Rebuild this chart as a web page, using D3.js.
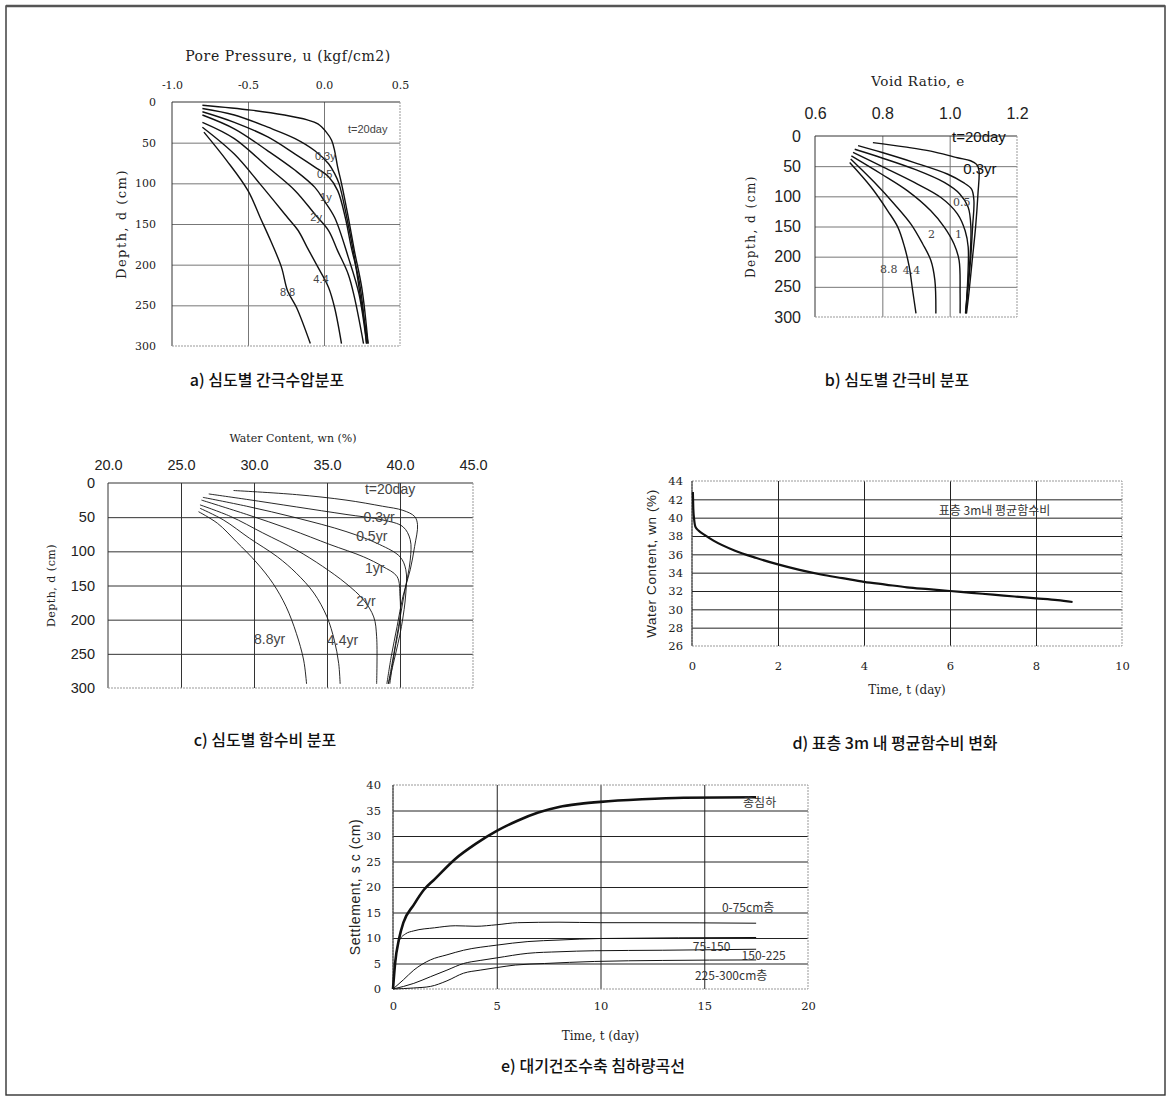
<!DOCTYPE html>
<html>
<head>
<meta charset="utf-8">
<script src="https://cdn.jsdelivr.net/npm/d3@7"></script>
<style>
  body { margin: 0; background: #fff; }
  svg { display: block; }
</style>
</head>
<body>
<div id="chart"></div>
<script>
'use strict';

// ---- data: a) pore pressure u (kgf/cm2) vs depth d (cm)
var poreNames = ['t=20day', '0.3y', '0.5', '1y', '2y', '4.4', '8.8'];
var pore20d = [[-0.80, 4], [-0.48, 10], [-0.26, 16], [-0.11, 22], [-0.04, 27], [0.015, 37], [0.05, 47], [0.07, 60], [0.09, 80], [0.115, 100], [0.16, 142], [0.20, 183], [0.25, 230], [0.29, 297]];
var pore03 = [[-0.80, 8], [-0.59, 16], [-0.37, 31], [-0.19, 45], [-0.06, 60], [0.03, 76], [0.07, 88], [0.10, 101], [0.15, 142], [0.20, 191], [0.24, 240], [0.29, 297]];
var pore05 = [[-0.80, 12], [-0.59, 25], [-0.37, 43], [-0.19, 64], [-0.06, 80], [0.03, 92], [0.09, 109], [0.14, 142], [0.18, 179], [0.235, 224], [0.28, 297]];
var pore1 = [[-0.80, 16], [-0.59, 33], [-0.37, 60], [-0.19, 84], [-0.06, 105], [0.00, 121], [0.07, 142], [0.16, 191], [0.23, 236], [0.28, 297]];
var pore2 = [[-0.80, 25], [-0.59, 45], [-0.37, 80], [-0.19, 109], [-0.06, 138], [0.03, 158], [0.09, 183], [0.16, 212], [0.20, 240], [0.26, 297]];
var pore44 = [[-0.80, 31], [-0.59, 64], [-0.42, 101], [-0.24, 142], [-0.17, 158], [-0.11, 179], [-0.04, 203], [0.03, 228], [0.07, 253], [0.115, 297]];
var pore88 = [[-0.79, 37], [-0.64, 72], [-0.50, 109], [-0.42, 142], [-0.35, 171], [-0.28, 203], [-0.24, 232], [-0.18, 253], [-0.09, 297]];
var poreNoteAt = [[0.158, 34], [-0.06, 68], [-0.046, 90], [-0.026, 118], [-0.09, 143], [-0.07, 219], [-0.29, 235]];
var poreTicks = [-1.0, -0.5, 0.0, 0.5];

// ---- data: b) void ratio e vs depth
var voidNames = ['t=20day', '0.3yr', '0.5', '1', '2', '4.4', '8.8'];
var void20d = [[0.772, 11], [0.866, 18], [0.944, 25], [1.023, 36], [1.062, 41], [1.08, 47], [1.087, 57], [1.084, 96], [1.077, 151], [1.067, 206], [1.057, 261], [1.05, 294]];
var void03 = [[0.728, 16], [0.797, 27], [0.895, 44], [0.993, 63], [1.04, 77], [1.065, 88], [1.072, 107], [1.068, 151], [1.062, 206], [1.053, 261], [1.048, 294]];
var void05 = [[0.718, 22], [0.797, 36], [0.895, 55], [0.984, 77], [1.03, 96], [1.055, 118], [1.063, 151], [1.06, 206], [1.052, 261], [1.047, 294]];
var void1 = [[0.713, 27], [0.797, 50], [0.895, 77], [0.974, 102], [1.023, 129], [1.046, 157], [1.055, 184], [1.054, 234], [1.048, 294]];
var void2 = [[0.708, 33], [0.797, 63], [0.875, 91], [0.944, 124], [0.984, 151], [1.013, 179], [1.028, 206], [1.031, 261], [1.031, 294]];
var void44 = [[0.706, 38], [0.777, 77], [0.836, 113], [0.885, 146], [0.92, 179], [0.944, 206], [0.956, 239], [0.959, 294]];
var void88 = [[0.703, 44], [0.767, 85], [0.816, 124], [0.846, 151], [0.866, 184], [0.880, 217], [0.890, 256], [0.9, 294]];
var voidNoteAt = [[1.007, 3], [1.04, 56], [1.01, 111], [1.016, 164], [0.936, 164], [0.861, 224], [0.793, 222]];
var voidTicks = [0.6, 0.8, 1.0, 1.2];

// ---- data: c) water content wn (%) vs depth
var wcNames = ['t=20day', '0.3yr', '0.5yr', '1yr', '2yr', '4.4yr', '8.8yr'];
var wc20d = [[28.6, 11], [32.9, 17], [36.3, 25], [38.8, 34], [40.2, 40], [41.0, 49], [41.2, 61], [41.0, 93], [40.7, 127], [40.2, 166], [39.8, 210], [39.4, 254], [39.1, 294]];
var wc03 = [[26.9, 16], [29.5, 24], [32.9, 35], [36.3, 46], [38.8, 54], [40.2, 64], [40.7, 83], [40.7, 113], [40.3, 161], [39.9, 210], [39.5, 259], [39.2, 294]];
var wc05 = [[26.5, 21], [29.5, 34], [32.9, 51], [36.3, 71], [38.6, 90], [40.0, 108], [40.4, 127], [40.4, 161], [40.1, 210], [39.6, 259], [39.2, 294]];
var wc1 = [[26.4, 25], [29.5, 46], [32.5, 68], [35.2, 90], [37.5, 108], [38.8, 122], [39.8, 137], [40.0, 166], [40.0, 200], [39.6, 250], [39.3, 294]];
var wc2 = [[26.3, 32], [28.4, 49], [30.6, 73], [32.9, 98], [34.7, 122], [36.3, 147], [37.5, 171], [38.2, 196], [38.4, 225], [38.4, 294]];
var wc44 = [[26.3, 37], [27.9, 54], [29.7, 81], [31.6, 108], [32.9, 132], [34.1, 161], [35.0, 196], [35.5, 230], [35.8, 264], [35.9, 294]];
var wc88 = [[26.2, 42], [27.5, 59], [28.8, 86], [30.2, 117], [31.3, 147], [32.2, 181], [32.9, 220], [33.4, 259], [33.6, 294]];
var wcNoteAt = [[37.6, 10], [37.5, 51], [37.0, 80], [37.6, 127], [37.0, 174], [35.0, 231], [30.0, 230]];
var wcTicks = [20, 25, 30, 35, 40, 45];

// shared depth ticks
var depthTicks = [0, 50, 100, 150, 200, 250, 300];

// ---- data: d) mean water content of top 3 m vs time
var dTime = [0.02, 0.03, 0.05, 0.08, 0.15, 0.3, 0.5, 1, 1.5, 2, 2.5, 3, 3.5, 4, 4.5, 5, 5.5, 6, 6.5, 7, 7.5, 8, 8.5, 8.85];
var dWater = [42.8, 41.0, 39.8, 39.0, 38.6, 38.1, 37.5, 36.4, 35.6, 34.9, 34.3, 33.8, 33.4, 33.0, 32.7, 32.4, 32.2, 32.0, 31.8, 31.6, 31.4, 31.2, 31.0, 30.8];
var dNote = '표층 3m내 평균함수비';
var dNoteAt = [5.74, 40.6];
var dXTicks = [0, 2, 4, 6, 8, 10];
var dYTicks = [26, 28, 30, 32, 34, 36, 38, 40, 42, 44];

// ---- data: e) settlement vs time
var eTotalT = [0, 0.1, 0.3, 0.5, 1, 1.5, 2, 3, 4, 5, 6, 7, 8, 9, 10, 12, 14, 17.5];
var eTotal = [0, 5, 10, 13, 16.5, 19.5, 21.5, 25.5, 28.5, 31, 33, 34.6, 35.7, 36.3, 36.7, 37.2, 37.5, 37.6];
var eL1T = [0, 0.1, 0.3, 0.6, 1, 2, 3, 4, 5, 6, 8, 10, 12, 17.5];
var eL1 = [0, 5, 9.5, 10.8, 11.4, 12, 12.4, 12.3, 12.6, 13, 13.1, 13, 13, 12.9];
var eL2T = [0, 0.5, 1, 1.8, 2.6, 3.4, 5, 6.5, 8, 10, 17.5];
var eL2 = [0, 1.8, 3.7, 5.7, 6.7, 7.6, 8.6, 9.3, 9.6, 9.9, 10.1];
var eL3T = [0, 1, 1.8, 2.6, 3.4, 4.2, 5, 6.5, 8, 9.7, 13, 17.5];
var eL3 = [0, 1.1, 2.4, 3.7, 5.0, 5.6, 6.1, 7.0, 7.3, 7.5, 7.6, 7.8];
var eL4T = [0, 1, 1.8, 2.6, 3.4, 4.2, 5, 5.9, 7.3, 9.7, 13, 17.5];
var eL4 = [0, 0.2, 0.5, 1.6, 3.1, 3.7, 4.2, 4.7, 5.0, 5.4, 5.6, 5.7];
var eNames = ['총침하', '0-75cm층', '75-150', '150-225', '225-300cm층'];
var eNoteAt = [[16.87, 36.3], [15.85, 15.7], [14.45, 8.0], [16.8, 6.3], [14.55, 2.4]];
var eXTicks = [0, 5, 10, 15, 20];
var eYTicks = [0, 5, 10, 15, 20, 25, 30, 35, 40];

var captions = ['a) 심도별 간극수압분포', 'b) 심도별 간극비 분포', 'c) 심도별 함수비 분포', 'd) 표층 3m 내 평균함수비 변화', 'e) 대기건조수축 침하량곡선'];

var serif = "'DejaVu Serif', 'Liberation Serif', serif";
var sans = "'Liberation Sans', Arial, sans-serif";
var kfont = "'Noto Sans CJK KR', sans-serif";

var svg = d3.select('#chart').append('svg').attr('width', 1171).attr('height', 1101);

// outer frame
svg.append('rect').attr('x', 6).attr('y', 6).attr('width', 1159).attr('height', 1089)
  .attr('fill', 'none').attr('stroke', '#333').attr('stroke-width', 1.4);
svg.append('line').attr('x1', 6).attr('x2', 1165).attr('y1', 6).attr('y2', 6)
  .attr('stroke', '#555').attr('stroke-width', 2.5);

function fix1(v) { return v.toFixed(1); }

// depth-profile panel (x axis on top, depth increasing downward)
function profilePanel(o) {
  var g = svg.append('g');
  var x = d3.scaleLinear().domain(o.xDomain).range([o.left, o.left + o.w]);
  var y = d3.scaleLinear().domain([0, 300]).range([o.top, o.top + o.h]);

  // grid
  g.append('g').attr('transform', 'translate(0,' + o.top + ')')
    .call(d3.axisBottom(x).tickValues(o.xTicks.slice(1, -1)).tickSize(o.h).tickFormat(''))
    .call(function (s) { s.select('.domain').remove(); s.selectAll('line').attr('stroke', o.gridColor).attr('stroke-width', 1); });
  g.append('g').attr('transform', 'translate(' + o.left + ',0)')
    .call(d3.axisRight(y).tickValues(depthTicks.slice(1, -1)).tickSize(o.w).tickFormat(''))
    .call(function (s) { s.select('.domain').remove(); s.selectAll('line').attr('stroke', o.gridColor).attr('stroke-width', 1); });

  // frame
  g.append('line').attr('x1', o.left).attr('x2', o.left + o.w).attr('y1', o.top).attr('y2', o.top).attr('stroke', '#333');
  g.append('line').attr('x1', o.left).attr('x2', o.left).attr('y1', o.top).attr('y2', o.top + o.h).attr('stroke', '#333');
  g.append('line').attr('x1', o.left + o.w).attr('x2', o.left + o.w).attr('y1', o.top).attr('y2', o.top + o.h).attr('stroke', '#999').attr('stroke-dasharray', '2,1');
  g.append('line').attr('x1', o.left).attr('x2', o.left + o.w).attr('y1', o.top + o.h).attr('y2', o.top + o.h).attr('stroke', '#999').attr('stroke-dasharray', '2,1');

  // tick labels
  g.append('g').attr('transform', 'translate(0,' + o.top + ')')
    .call(d3.axisTop(x).tickValues(o.xTicks).tickSize(0).tickPadding(o.xPad).tickFormat(fix1))
    .call(function (s) { s.select('.domain').remove(); s.selectAll('text').attr('font-family', o.tickFont).attr('font-size', o.tickSize).attr('fill', '#222'); });
  g.append('g').attr('transform', 'translate(' + o.left + ',0)')
    .call(d3.axisLeft(y).tickValues(depthTicks).tickSize(0).tickPadding(o.yPad))
    .call(function (s) { s.select('.domain').remove(); s.selectAll('text').attr('font-family', o.tickFont).attr('font-size', o.tickSize).attr('fill', '#222'); });

  // titles
  g.append('text').attr('x', o.titleX).attr('y', o.titleY).attr('text-anchor', 'middle')
    .attr('font-family', serif).attr('font-size', o.titleSize).attr('letter-spacing', o.titleSpacing || 0)
    .attr('fill', '#222').text(o.title);
  g.append('text').attr('transform', 'translate(' + o.yLabelX + ',' + (o.top + o.h / 2) + ') rotate(-90)')
    .attr('text-anchor', 'middle').attr('dominant-baseline', 'middle')
    .attr('font-family', serif).attr('font-size', o.yLabelSize).attr('letter-spacing', o.yLabelSpacing)
    .attr('fill', '#222').text('Depth, d (cm)');

  // curves
  var line = d3.line().x(function (p) { return x(p[0]); }).y(function (p) { return y(p[1]); })
    .curve(d3.curveCatmullRom.alpha(0.5));
  o.series.forEach(function (s) {
    g.append('path').attr('d', line(s)).attr('fill', 'none')
      .attr('stroke', '#111').attr('stroke-width', o.lineWidth);
  });

  // curve labels
  o.names.forEach(function (n, i) {
    var big = o.bigNotes.indexOf(i) >= 0;
    g.append('text').attr('x', x(o.noteAt[i][0])).attr('y', y(o.noteAt[i][1]))
      .attr('dominant-baseline', 'middle')
      .attr('font-family', big ? sans : o.noteFont)
      .attr('font-size', big ? o.bigNoteSize : o.noteSize)
      .attr('fill', big ? '#111' : '#444').text(n);
  });
  return g;
}

profilePanel({
  left: 172, top: 102, w: 228, h: 244,
  xDomain: [-1.0, 0.5], xTicks: poreTicks, xPad: 13, yPad: 16,
  tickFont: serif, tickSize: 11, gridColor: '#777',
  title: 'Pore Pressure, u (kgf/cm2)', titleX: 288, titleY: 61, titleSize: 14, titleSpacing: 0.6,
  yLabelX: 122, yLabelSize: 13, yLabelSpacing: 1.5,
  series: [pore20d, pore03, pore05, pore1, pore2, pore44, pore88],
  names: poreNames, noteAt: poreNoteAt, noteFont: sans, noteSize: 11,
  bigNotes: [], bigNoteSize: 11, lineWidth: 1.4
});

profilePanel({
  left: 815, top: 136, w: 202, h: 181,
  xDomain: [0.6, 1.2], xTicks: voidTicks, xPad: 17, yPad: 14,
  tickFont: sans, tickSize: 16, gridColor: '#777',
  title: 'Void Ratio, e', titleX: 918, titleY: 86, titleSize: 13.5, titleSpacing: 0.5,
  yLabelX: 751, yLabelSize: 12, yLabelSpacing: 1.5,
  series: [void20d, void03, void05, void1, void2, void44, void88],
  names: voidNames, noteAt: voidNoteAt, noteFont: serif, noteSize: 11,
  bigNotes: [0, 1], bigNoteSize: 15, lineWidth: 1.4
});

profilePanel({
  left: 108, top: 483, w: 365, h: 205,
  xDomain: [20, 45], xTicks: wcTicks, xPad: 13, yPad: 13,
  tickFont: sans, tickSize: 14.5, gridColor: '#333',
  title: 'Water Content, wn (%)', titleX: 293, titleY: 442, titleSize: 11,
  yLabelX: 52, yLabelSize: 11, yLabelSpacing: 0.5,
  series: [wc20d, wc03, wc05, wc1, wc2, wc44, wc88],
  names: wcNames, noteAt: wcNoteAt, noteFont: sans, noteSize: 14,
  bigNotes: [], bigNoteSize: 14, lineWidth: 0.9
});

// time-history panel (x axis at bottom)
function timePanel(o) {
  var g = svg.append('g');
  var x = d3.scaleLinear().domain(o.xDomain).range([o.left, o.left + o.w]);
  var y = d3.scaleLinear().domain(o.yDomain).range([o.top + o.h, o.top]);

  g.append('g').attr('transform', 'translate(0,' + o.top + ')')
    .call(d3.axisBottom(x).tickValues(o.xTicks.slice(1, -1)).tickSize(o.h).tickFormat(''))
    .call(function (s) { s.select('.domain').remove(); s.selectAll('line').attr('stroke', '#222').attr('stroke-width', 1); });
  g.append('g').attr('transform', 'translate(' + o.left + ',0)')
    .call(d3.axisRight(y).tickValues(o.yTicks.slice(1, -1)).tickSize(o.w).tickFormat(''))
    .call(function (s) { s.select('.domain').remove(); s.selectAll('line').attr('stroke', '#222').attr('stroke-width', 1); });

  g.append('rect').attr('x', o.left).attr('y', o.top).attr('width', o.w).attr('height', o.h)
    .attr('fill', 'none').attr('stroke', '#999').attr('stroke-dasharray', '2,1');
  g.append('line').attr('x1', o.left).attr('x2', o.left).attr('y1', o.top).attr('y2', o.top + o.h).attr('stroke', '#222');

  g.append('g').attr('transform', 'translate(0,' + (o.top + o.h) + ')')
    .call(d3.axisBottom(x).tickValues(o.xTicks).tickSize(0).tickPadding(o.xPad))
    .call(function (s) { s.select('.domain').remove(); s.selectAll('text').attr('font-family', serif).attr('font-size', 11.5).attr('fill', '#222'); });
  g.append('g').attr('transform', 'translate(' + o.left + ',0)')
    .call(d3.axisLeft(y).tickValues(o.yTicks).tickSize(0).tickPadding(o.yPad))
    .call(function (s) { s.select('.domain').remove(); s.selectAll('text').attr('font-family', serif).attr('font-size', 11.5).attr('fill', '#222'); });

  g.append('text').attr('x', o.left + o.w / 2).attr('y', o.titleY).attr('text-anchor', 'middle')
    .attr('font-family', serif).attr('font-size', 12).attr('fill', '#222').text('Time, t (day)');
  g.append('text').attr('transform', 'translate(' + o.yLabelX + ',' + (o.top + o.h / 2) + ') rotate(-90)')
    .attr('text-anchor', 'middle').attr('dominant-baseline', 'middle')
    .attr('font-family', sans).attr('font-size', o.yLabelSize).attr('letter-spacing', 0.6)
    .attr('fill', '#222').text(o.yLabel);

  var line = d3.line().x(function (p) { return x(p[0]); }).y(function (p) { return y(p[1]); })
    .curve(d3.curveMonotoneX);
  o.series.forEach(function (s, i) {
    var pts = s.t.map(function (t, k) { return [t, s.v[k]]; });
    g.append('path').attr('d', line(pts)).attr('fill', 'none')
      .attr('stroke', '#111').attr('stroke-width', s.width);
  });
  o.names.forEach(function (n, i) {
    g.append('text').attr('x', x(o.noteAt[i][0])).attr('y', y(o.noteAt[i][1]))
      .attr('dominant-baseline', 'middle').attr('font-family', o.noteFont)
      .attr('font-size', 12).attr('fill', '#333').text(n);
  });
}

timePanel({
  left: 692, top: 481, w: 430, h: 165,
  xDomain: [0, 10], yDomain: [26, 44], xTicks: dXTicks, yTicks: dYTicks,
  xPad: 16, yPad: 9, titleY: 694, yLabelX: 652, yLabelSize: 13.5, yLabel: 'Water Content, wn (%)',
  series: [{ t: dTime, v: dWater, width: 2.2 }],
  names: [dNote], noteAt: [dNoteAt], noteFont: kfont
});

timePanel({
  left: 393, top: 785, w: 415, h: 204,
  xDomain: [0, 20], yDomain: [0, 40], xTicks: eXTicks, yTicks: eYTicks,
  xPad: 13, yPad: 12, titleY: 1040, yLabelX: 356, yLabelSize: 14, yLabel: 'Settlement, s c (cm)',
  series: [
    { t: eTotalT, v: eTotal, width: 2.6 },
    { t: eL1T, v: eL1, width: 1 },
    { t: eL2T, v: eL2, width: 1 },
    { t: eL3T, v: eL3, width: 1 },
    { t: eL4T, v: eL4, width: 1 }
  ],
  names: eNames, noteAt: eNoteAt, noteFont: kfont
});

// captions
var capPos = [[267, 382], [897, 382], [265, 742], [895, 745], [593, 1068]];
captions.forEach(function (c, i) {
  svg.append('text').attr('x', capPos[i][0]).attr('y', capPos[i][1])
    .attr('text-anchor', 'middle').attr('dominant-baseline', 'middle')
    .attr('font-family', kfont).attr('font-size', 16).attr('font-weight', 500)
    .attr('fill', '#111').text(c);
});
</script>
</body>
</html>
